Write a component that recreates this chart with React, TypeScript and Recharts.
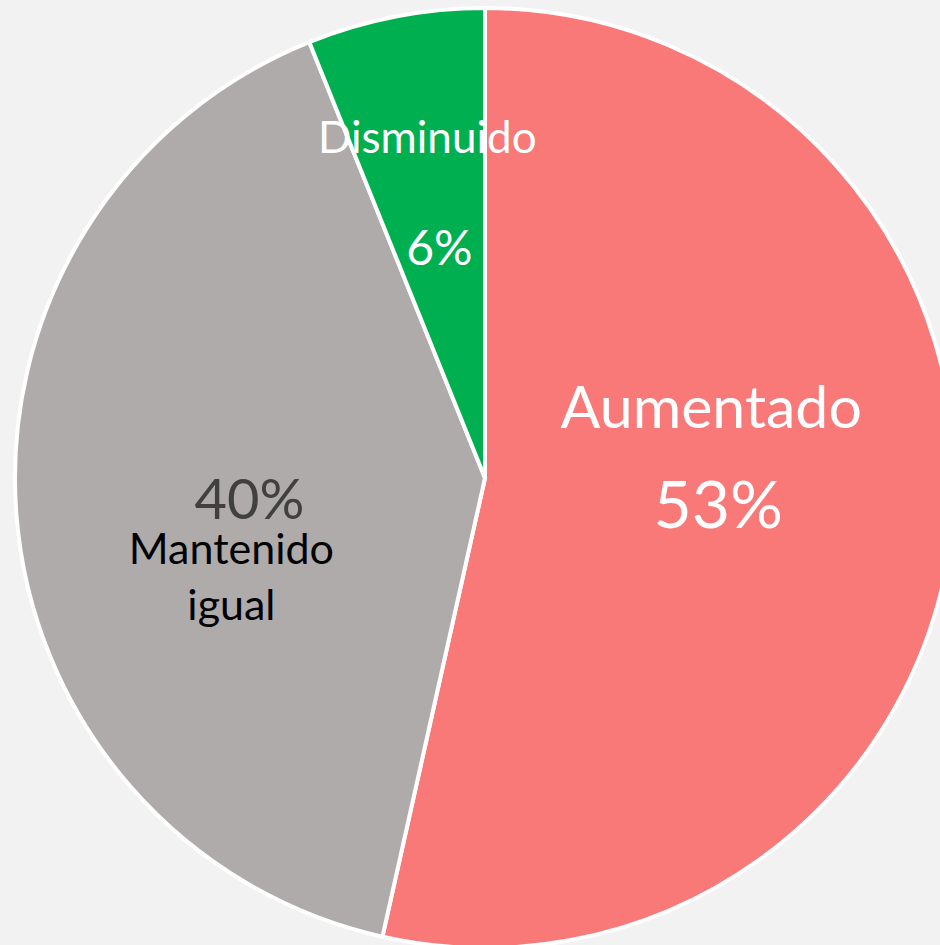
import { PieChart, Pie, Cell } from "recharts";

const CATEGORIES = ["Aumentado", "Mantenido igual", "Disminuido"];
const SHARES = [53.5, 40.4, 6.1];
const PERCENT_LABELS = ["53%", "40%", "6%"];

const SLICE_COLORS = ["#f87978", "#afabab", "#00b050"];
const BG = "#f2f2f2";
const FONT = "Lato, 'Open Sans', sans-serif";

type LabelLine = {
  text: string;
  dx: number;
  dy: number;
  size: number;
  color: string;
};

// where each label block sits inside its slice (fraction of radius) and
// how its lines are offset from that anchor
const LABEL_LAYOUT: { r: number; lines: LabelLine[] }[] = [
  {
    r: 0.48,
    lines: [
      { text: "Aumentado", dx: 2, dy: -75, size: 59, color: "#ffffff" },
      { text: "%", dx: 9, dy: 25, size: 66, color: "#ffffff" },
    ],
  },
  {
    r: 0.52,
    lines: [
      { text: "%", dx: 8, dy: 21, size: 56, color: "#404040" },
      { text: "Mantenido", dx: -10, dy: 66, size: 43, color: "#000000" },
      { text: "igual", dx: -10, dy: 122, size: 43, color: "#000000" },
    ],
  },
  {
    r: 0.6,
    lines: [
      { text: "Disminuido", dx: -4, dy: -48, size: 44, color: "#ffffff" },
      { text: "%", dx: 8, dy: 64, size: 48, color: "#ffffff" },
    ],
  },
];

const data = CATEGORIES.map((name, i) => ({ name, value: SHARES[i] }));

const RADIAN = Math.PI / 180;

function SliceLabel(props: any) {
  const { cx, cy, midAngle, outerRadius, index } = props;
  const layout = LABEL_LAYOUT[index];
  const rr = outerRadius * layout.r;
  const x = cx + rr * Math.cos(-midAngle * RADIAN);
  const y = cy + rr * Math.sin(-midAngle * RADIAN);
  return (
    <g>
      {layout.lines.map((ln, k) => (
        <text
          key={k}
          x={x + ln.dx}
          y={y + ln.dy}
          textAnchor="middle"
          fill={ln.color}
          fontSize={ln.size}
          fontFamily={FONT}
        >
          {ln.text === "%" ? PERCENT_LABELS[index] : ln.text}
        </text>
      ))}
    </g>
  );
}

export default function App() {
  return (
    <div
      style={{
        position: "absolute",
        left: 0,
        top: 0,
        width: 940,
        height: 945,
        background: BG,
        overflow: "hidden",
      }}
    >
      <PieChart
        width={940}
        height={945}
        margin={{ top: 0, right: 0, bottom: 0, left: 0 }}
      >
        <Pie
          data={data}
          dataKey="value"
          nameKey="name"
          cx={485}
          cy={478}
          outerRadius={470}
          startAngle={90}
          endAngle={-270}
          stroke="#ffffff"
          strokeWidth={4}
          labelLine={false}
          label={SliceLabel}
          isAnimationActive={false}
        >
          {data.map((d, i) => (
            <Cell key={d.name} fill={SLICE_COLORS[i]} />
          ))}
        </Pie>
      </PieChart>
    </div>
  );
}
